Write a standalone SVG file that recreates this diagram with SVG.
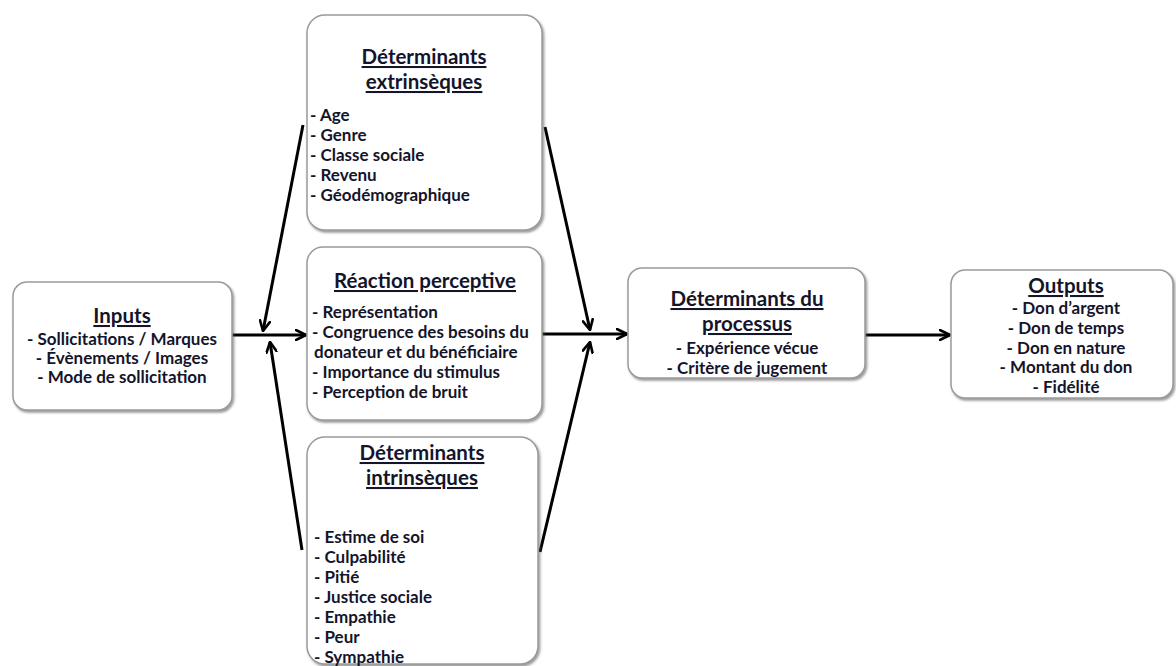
<svg xmlns="http://www.w3.org/2000/svg" width="1176" height="666" viewBox="0 0 1176 666">
<defs>
<style>
.box{fill:#fff;stroke:#9a9a9a;stroke-width:1.5;filter:url(#sh)}
.t{font-family:Lato,"Liberation Sans",sans-serif;font-weight:bold;fill:#14142a;font-size:20.5px;text-decoration:underline}
.b{font-family:Lato,"Liberation Sans",sans-serif;font-weight:bold;fill:#14142a;font-size:17px}
.c{text-anchor:middle}
.ar{stroke:#000;stroke-width:3;fill:none;marker-end:url(#ah)}
</style>
<filter id="sh" x="-10%" y="-10%" width="120%" height="120%">
<feDropShadow dx="1.5" dy="2" stdDeviation="1.2" flood-color="#555" flood-opacity="0.6"/>
</filter>
<marker id="ah" viewBox="0 0 12 12" refX="11" refY="6" markerWidth="12" markerHeight="12" markerUnits="userSpaceOnUse" orient="auto">
<path d="M1,1 L11,6 L1,11" fill="none" stroke="#000" stroke-width="2.6" stroke-linecap="round" stroke-linejoin="round"/>
</marker>
</defs>
<rect width="1176" height="666" fill="#fff"/>
<g id="connectors">
<line class="ar" x1="232" y1="335" x2="306" y2="335"/>
<line class="ar" x1="303" y1="125" x2="263" y2="331"/>
<line class="ar" x1="302" y1="550" x2="270" y2="342"/>
<line class="ar" x1="545" y1="127" x2="590" y2="330"/>
<line class="ar" x1="540" y1="552" x2="590" y2="342"/>
<line class="ar" x1="542" y1="334" x2="627" y2="334"/>
<line class="ar" x1="865" y1="335" x2="950" y2="335"/>
</g>
<g id="inputs">
<rect class="box" x="13" y="282" width="219" height="128" rx="14"/>
<text class="t c" x="122" y="323">Inputs</text>
<text class="b c" x="122" y="345">- Sollicitations / Marques</text>
<text class="b c" x="122" y="364">- Évènements / Images</text>
<text class="b c" x="122" y="383">- Mode de sollicitation</text>
</g>
<g id="extrinseques">
<rect class="box" x="307" y="15" width="235" height="215" rx="18"/>
<text class="t c" x="424" y="64">Déterminants</text>
<text class="t c" x="424" y="89">extrinsèques</text>
<text class="b" x="310" y="121">- Age</text>
<text class="b" x="310" y="141">- Genre</text>
<text class="b" x="310" y="161">- Classe sociale</text>
<text class="b" x="310" y="181">- Revenu</text>
<text class="b" x="310" y="201">- Géodémographique</text>
</g>
<g id="reaction">
<rect class="box" x="307" y="247" width="235" height="173" rx="16"/>
<text class="t c" x="425" y="288">Réaction perceptive</text>
<text class="b" x="312" y="318">- Représentation</text>
<text class="b" x="312" y="338">- Congruence des besoins du</text>
<text class="b" x="314" y="358">donateur et du bénéficiaire</text>
<text class="b" x="312" y="378">- Importance du stimulus</text>
<text class="b" x="312" y="398">- Perception de bruit</text>
</g>
<g id="intrinseques">
<rect class="box" x="307" y="437" width="231" height="227" rx="18"/>
<text class="t c" x="422" y="460">Déterminants</text>
<text class="t c" x="422" y="485">intrinsèques</text>
<text class="b" x="314" y="543">- Estime de soi</text>
<text class="b" x="314" y="563">- Culpabilité</text>
<text class="b" x="314" y="583">- Pitié</text>
<text class="b" x="314" y="603">- Justice sociale</text>
<text class="b" x="314" y="623">- Empathie</text>
<text class="b" x="314" y="643">- Peur</text>
<text class="b" x="314" y="663">- Sympathie</text>
</g>
<g id="processus">
<rect class="box" x="628" y="268" width="237" height="110" rx="14"/>
<text class="t c" x="747" y="306">Déterminants du</text>
<text class="t c" x="747" y="331">processus</text>
<text class="b c" x="747" y="354">- Expérience vécue</text>
<text class="b c" x="747" y="374">- Critère de jugement</text>
</g>
<g id="outputs">
<rect class="box" x="951" y="270" width="222" height="128" rx="14"/>
<text class="t c" x="1066" y="293">Outputs</text>
<text class="b c" x="1066" y="314">- Don d’argent</text>
<text class="b c" x="1066" y="334">- Don de temps</text>
<text class="b c" x="1066" y="354">- Don en nature</text>
<text class="b c" x="1066" y="373">- Montant du don</text>
<text class="b c" x="1066" y="393">- Fidélité</text>
</g>
</svg>
